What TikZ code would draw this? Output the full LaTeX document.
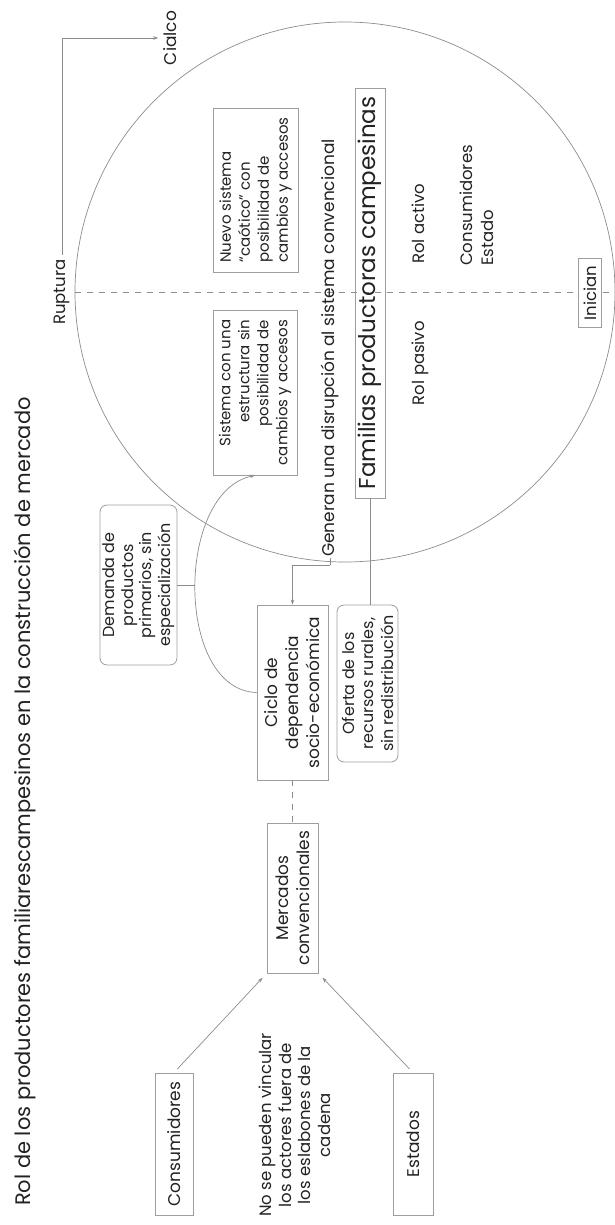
\documentclass[tikz,border=0pt]{standalone}
\usepackage{fontspec}
\setmainfont{Poppins}
\usetikzlibrary{arrows.meta}
\newcommand\fsz[2]{\fontsize{#1}{#2}\selectfont}
\definecolor{linegray}{HTML}{8C8C8C}
\definecolor{boxgray}{HTML}{9E9E9E}
\definecolor{txt}{HTML}{222222}
\begin{document}
\begin{tikzpicture}[x=1pt,y=-1pt,
  every node/.style={text=txt},
  box/.style={draw=boxgray, line width=0.8pt, rotate=90, align=center, inner sep=0pt},
  rbox/.style={box, rounded corners=7pt},
  lbl/.style={rotate=90, inner sep=1pt},
  conn/.style={draw=linegray, line width=0.7pt},
  arr/.style={conn, -{Stealth[length=5pt,width=3.5pt]}},
  dashline/.style={draw=linegray, line width=0.7pt, dash pattern=on 6pt off 6pt}
]
\useasboundingbox (0,0) rectangle (614,1225);

% title
\node[lbl, anchor=west, font=\fsz{21}{25}] (title) at (25,1207) {Rol de los productores familiarescampesinos en la construcción de mercado};

% big circle and dashed divider
\node[draw=linegray, line width=0.7pt, circle, minimum size=540pt, inner sep=0pt] (C) at (345,292) {};
\coordinate (dl) at (75,292);
\coordinate (dr) at (614,292);
\draw[dashline] (dl) -- (dr);

% Ruptura -> Cialco
\node[lbl, font=\fsz{16.5}{19}] (rup) at (62,292) {Ruptura};
\node[lbl, font=\fsz{17}{20}] (cia) at (170,38) {Cialco};
\draw[arr, shorten <=3pt, shorten >=4pt] (rup.east) |- (cia.north);

% boxes inside circle
\node[box, minimum width=164pt, minimum height=85pt, align=left, font=\fsz{15}{19}] (nuevo) at (255.5,190) {Nuevo sistema\\“caótico” con\\posibilidad de\\cambios y accesos};
\node[box, minimum width=165pt, minimum height=84pt, align=right, font=\fsz{15}{19}] (sist) at (255,392.5) {Sistema con una\\estructura sin\\posibilidad de\\cambios y accesos};
\node[lbl, anchor=west, font=\fsz{17}{20}] (gen) at (330,558) {Generan una disrupción al sistema convencional};
\node[box, minimum width=410pt, minimum height=30pt, font=\fsz{23}{26}] (fam) at (370,293) {Familias productoras campesinas};
\node[lbl, anchor=west, font=\fsz{16.5}{19}] (ract) at (418,265) {Rol activo};
\node[lbl, anchor=east, font=\fsz{16.5}{19}] (rpas) at (420,320) {Rol pasivo};
\node[lbl, anchor=west, align=left, font=\fsz{16.5}{21}] (ce) at (477,267) {Consumidores\\Estado};
\node[box, fill=white, inner xsep=7pt, inner ysep=5pt, font=\fsz{16.5}{19}] (ini) at (590,293) {Inician};

% lower part
\node[box, minimum width=175pt, minimum height=71pt, font=\fsz{17}{21}] (ciclo) at (292.5,692.5) {Ciclo de\\dependencia\\socio-económica};
\node[rbox, minimum width=157pt, minimum height=61pt, font=\fsz{16}{19.5}] (ofe) at (367.5,683.5) {Oferta de los\\recursos rurales,\\sin redistribución};
\node[rbox, minimum width=160pt, minimum height=77pt, font=\fsz{16}{18.5}] (dem) at (138.5,585) {Demanda de\\productos\\primarios, sin\\especialización};
\node[box, minimum width=150pt, minimum height=51pt, font=\fsz{17}{21}] (merc) at (292.5,898) {Mercados\\convencionales};
\node[box, minimum width=142pt, minimum height=38pt, font=\fsz{17}{20}] (cons) at (174,1144) {Consumidores};
\node[box, minimum width=142pt, minimum height=40pt, font=\fsz{17}{20}] (est) at (413,1144) {Estados};
\node[lbl, align=center, font=\fsz{16.5}{19.5}] (nose) at (295,1125) {No se pueden vincular\\los actores fuera de\\los eslabones de la\\cadena};

% connectors
\coordinate (j) at (330,565);
\draw[conn] (gen.west) -- (j);
\draw[arr] (j) -| (ciclo.east);
\draw[conn] (fam.west) -- (fam.west |- ofe.east);
\draw[arr] (ciclo.north) .. controls (175,690) and (175,492) .. (sist.west) node[pos=0.5, coordinate] (mid) {};
\draw[conn] (dem.south) -- (dem.south -| mid);
\draw[dashline] (ciclo.west) -- (merc.east);
\draw[arr, shorten <=5pt, shorten >=6pt] (cons.east) -- (merc.north west);
\draw[arr, shorten <=5pt, shorten >=6pt] (est.east) -- (merc.south west);
\end{tikzpicture}
\end{document}
